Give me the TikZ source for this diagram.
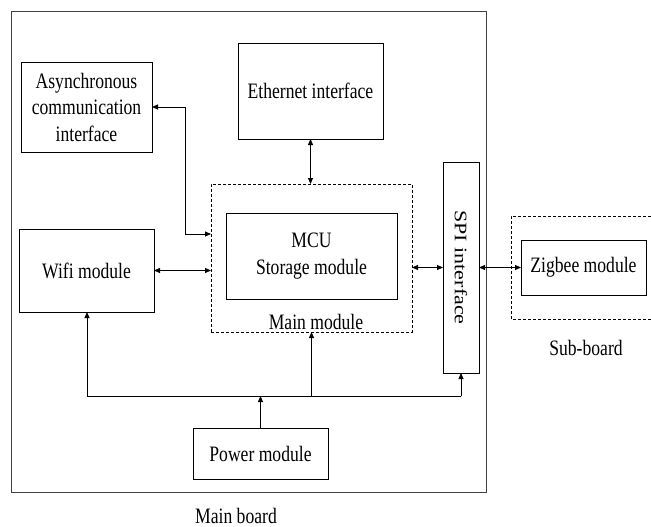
\documentclass[tikz,border=0pt]{standalone}
\usepackage{fontspec}
\setmainfont{Liberation Serif}[FakeStretch=0.8]
\newfontfamily\plainserif{Liberation Serif}
\usetikzlibrary{arrows.meta,calc}

\tikzset{
  box/.style={draw, line width=0.8pt, inner sep=0pt, outer sep=0pt, align=center},
  dashbox/.style={draw, line width=0.7pt, dash pattern=on 3pt off 2pt, inner sep=0pt, outer sep=0pt},
  frame/.style={draw=black!75, line width=1pt, inner sep=0pt, outer sep=0pt},
  label/.style={inner sep=0pt, align=center},
  link/.style={line width=0.8pt, <->},
  feed/.style={line width=0.8pt, ->},
  wire/.style={line width=0.8pt},
  >={Triangle[length=6pt,width=5pt]}
}

\begin{document}
\begin{tikzpicture}[x=1pt, y=-1pt,
  every node/.append style={font=\fontsize{22}{26.5}\selectfont}]
\useasboundingbox (0,0) rectangle (651,527);

% boards
\node[frame, minimum width=474.5, minimum height=480.5] (mainboard) at (248.75,251.75) {};
\draw[dashbox] (651,216) -- (511,216) -- (511,319) -- (651,319);

% modules
\node[box, minimum width=131, minimum height=90] (async) at (86.5,107)
  {Asynchronous\\communication\\interface};
\node[box, minimum width=145, minimum height=96] (eth) at (310.5,91) {Ethernet interface};
\node[dashbox, minimum width=201, minimum height=148] (mainmod) at (311.5,258) {};
\node[box, minimum width=171, minimum height=86] (mcu) at (311.5,256) {MCU\\Storage module};
\node[box, minimum width=135, minimum height=83] (wifi) at (86.5,270.5) {Wifi module};
\node[box, minimum width=36, minimum height=211] (spi) at (461,267.5) {};
\node[label, rotate=-90, yscale=0.8, font=\plainserif\fontsize{22}{26.5}\selectfont]
  (spitext) at (461,267.5) {SPI interface};
\node[box, minimum width=125, minimum height=55] (zigbee) at (583.5,267.5) {Zigbee module};
\node[box, minimum width=135, minimum height=51] (power) at (260.5,453.5) {Power module};

% captions
\node[label] (mmlabel) at (316,321.5) {Main module};
\node[label] (sublabel) at (586,348) {Sub-board};
\node[label] (mblabel) at (236,516) {Main board};

% data links
\coordinate (asyncbend) at (185,107);
\draw[link] (async.east) -- (asyncbend) |- (mainmod.west |- 0,234);
\draw[link] (wifi.east) -- (mainmod.west |- wifi.east);
\draw[link] (eth.south) -- (eth.south |- mainmod.north);
\draw[link] (mainmod.east |- spi.west) -- (spi.west);
\draw[link] (spi.east) -- (zigbee.west);

% power distribution
\coordinate (busL) at (87,396);
\coordinate (busR) at (461,396);
\draw[wire] (busL) -- (busR);
\draw[feed] (power.north) -- (power.north |- busL);
\draw[feed] (busL) -- (busL |- wifi.south);
\draw[feed] (mainmod.south |- busL) -- (mainmod.south);
\draw[feed] (busR) -- (spi.south);
\end{tikzpicture}
\end{document}
